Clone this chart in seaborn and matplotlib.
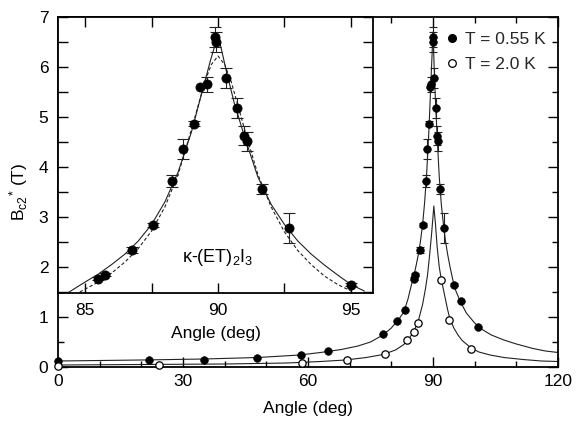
import matplotlib
matplotlib.use("Agg")
import matplotlib.pyplot as plt
import seaborn as sns
import numpy as np
import pandas as pd
from matplotlib.lines import Line2D
from matplotlib.ticker import MultipleLocator

# ---------------- data ----------------
# T = 0.55 K data points
ang_055 = [0, 21.8, 35, 47.8, 58.3, 64.9, 77.9, 81.4, 83.3, 85.49, 85.76, 86.77, 87.56,
           88.27, 88.67, 89.08, 89.33, 89.59, 89.90, 89.94, 90.30, 90.71, 90.99, 91.09,
           91.65, 92.68, 95.01, 96.6, 100.8]
bc2_055 = [0.12, 0.14, 0.15, 0.19, 0.24, 0.32, 0.67, 0.93, 1.15, 1.77, 1.85, 2.35, 2.84,
           3.73, 4.36, 4.87, 5.61, 5.66, 6.60, 6.50, 5.79, 5.19, 4.63, 4.52,
           3.57, 2.79, 1.65, 1.32, 0.81]
err_055 = [0, 0, 0, 0, 0, 0, 0, 0, 0, 0.03, 0.03, 0.06, 0.04,
           0.12, 0.21, 0.05, 0.0, 0.15, 0.2, 0.2, 0.2, 0.2, 0.19, 0.19,
           0.1, 0.3, 0.03, 0, 0]

# T = 2.0 K data points
ang_20 = [0, 24.3, 58.5, 69.4, 78.5, 83.8, 85.4, 86.3, 91.9, 93.9, 99.1]
bc2_20 = [0.03, 0.04, 0.09, 0.14, 0.26, 0.54, 0.71, 0.89, 1.74, 0.95, 0.37]

# solid fit curve, T = 0.55 K (main panel)
fit055_ang = [0, 20, 35, 48, 58, 63, 68, 72, 75, 78, 80, 82, 83, 84, 84.4, 85.0, 85.5, 86.0,
              86.5, 87.0, 87.5, 88.0, 88.5, 89.0, 89.4, 89.7, 90.0, 90.3, 90.6, 91.0,
              91.5, 92.0, 92.5, 93.0, 93.5, 94.0, 94.5, 95.0, 95.5, 96.5, 98, 100,
              102, 104, 107, 110, 114, 117, 120]
fit055_val = [0.12, 0.14, 0.16, 0.19, 0.24, 0.29, 0.35, 0.42, 0.50, 0.64, 0.78, 0.98, 1.10,
              1.36, 1.50, 1.70, 1.86, 2.05, 2.26, 2.52, 2.85, 3.30, 3.90, 4.70, 5.50,
              6.10, 6.70, 5.95, 5.30, 4.60, 3.80, 3.25, 2.85, 2.52, 2.26, 2.04, 1.84,
              1.65, 1.52, 1.32, 1.08, 0.88, 0.74, 0.64, 0.54, 0.46, 0.37, 0.32, 0.29]

# solid fit curve, T = 2.0 K
fit20_ang = [0, 20, 40, 55, 63, 69, 74, 78, 81, 83, 84.5, 85.5, 86.5, 87.5, 88.2, 88.7,
             89.2, 89.7, 90.2, 90.6, 91.0, 91.5, 92.0, 92.5, 93.5, 94.0, 95, 96, 97,
             99, 101, 103.7, 107, 111.6, 116, 120]
fit20_val = [0.04, 0.05, 0.06, 0.08, 0.11, 0.14, 0.19, 0.25, 0.34, 0.45, 0.60, 0.73, 0.93,
             1.25, 1.57, 1.85, 2.25, 2.70, 3.22, 2.85, 2.40, 2.00, 1.75, 1.55, 1.15,
             0.98, 0.78, 0.64, 0.53, 0.39, 0.30, 0.24, 0.19, 0.15, 0.12, 0.11]

# inset: solid (2D) and dashed (3D) fit curves
in_solid_ang = [84.0, 84.4, 85.0, 85.5, 86.0, 86.5, 87.0, 87.5, 88.0, 88.5, 89.0, 89.4, 89.7,
                90.0, 90.3, 90.6, 91.0, 91.5, 92.0, 92.5, 93.0, 93.5, 94.0, 94.5, 95.0, 95.5]
in_solid_val = [1.40, 1.50, 1.70, 1.86, 2.05, 2.26, 2.52, 2.85, 3.30, 3.90, 4.70, 5.50, 6.10,
                6.65, 5.95, 5.30, 4.60, 3.80, 3.25, 2.85, 2.52, 2.26, 2.04, 1.84, 1.65, 1.52]
in_dash_ang = [84.8, 85.5, 86.0, 86.5, 87.0, 87.5, 88.0, 88.5, 89.0, 89.5, 89.75, 90.0,
               90.25, 90.5, 91.0, 91.5, 92.0, 92.5, 93.0, 93.5, 94.0, 94.5, 95.0]
in_dash_val = [1.50, 1.70, 1.88, 2.10, 2.37, 2.72, 3.20, 3.85, 4.75, 5.70, 6.05, 6.22,
               6.05, 5.70, 4.75, 3.85, 3.20, 2.70, 2.33, 2.05, 1.82, 1.65, 1.52]

main_xticks = [0, 30, 60, 90, 120]
inset_xticks = [85, 90, 95]
legend_labels = ["T = 0.55 K", "T = 2.0 K"]
inset_title = "κ-(ET)$_2$I$_3$"

# ---------------- style ----------------
sns.set_theme(style="ticks")
plt.rcParams["font.family"] = ["Liberation Sans", "DejaVu Sans"]
plt.rcParams["mathtext.fontset"] = "custom"
plt.rcParams["mathtext.rm"] = "Liberation Sans"
plt.rcParams["mathtext.it"] = "Liberation Sans:italic"
plt.rcParams["mathtext.bf"] = "Liberation Sans:bold"

fig = plt.figure(figsize=(5.76, 4.21), dpi=100)
W, H = 576, 421
ax = fig.add_axes([58 / W, (H - 367) / H, 500 / W, 350 / H])

df_f055 = pd.DataFrame({"ang": fit055_ang, "val": fit055_val})
df_f20 = pd.DataFrame({"ang": fit20_ang, "val": fit20_val})
df_p055 = pd.DataFrame({"ang": ang_055, "val": bc2_055, "err": err_055})
df_p20 = pd.DataFrame({"ang": ang_20, "val": bc2_20})

lc = "#222222"
sns.lineplot(data=df_f055, x="ang", y="val", ax=ax, color=lc, lw=0.8, sort=False, estimator=None)
sns.lineplot(data=df_f20, x="ang", y="val", ax=ax, color=lc, lw=0.8, sort=False, estimator=None)
eb = df_p055[df_p055.err > 0]
ax.errorbar(eb.ang, eb.val, yerr=eb.err, fmt="none", ecolor="#222222", elinewidth=0.8,
            capsize=3, capthick=0.8, zorder=3)
sns.scatterplot(data=df_p055, x="ang", y="val", ax=ax, color="black", s=30,
                edgecolor="black", linewidth=0.5, zorder=4, clip_on=False)
sns.scatterplot(data=df_p20, x="ang", y="val", ax=ax, facecolor="white", s=28,
                edgecolor="black", linewidth=0.9, zorder=4, clip_on=False)

ax.set_xlim(0, 120)
ax.set_ylim(0, 7)
ax.set_xticks(main_xticks)
ax.xaxis.set_minor_locator(MultipleLocator(10))
ax.yaxis.set_major_locator(MultipleLocator(1))
ax.yaxis.set_minor_locator(MultipleLocator(0.5))
ax.tick_params(which="both", direction="in", top=True, right=True, labelsize=12.5,
               colors="black", width=1.0)
ax.tick_params(which="major", length=7, pad=5)
ax.tick_params(which="minor", length=4)
ax.tick_params(axis="y", which="major", pad=7)
for s in ax.spines.values():
    s.set_linewidth(1.3)
    s.set_color("black")
ax.set_xlabel("Angle (deg)", fontsize=12.5, labelpad=9, color="black")
ax.set_ylabel(r"B$_{\rm c2}{}^{*}$ (T)", fontsize=12.5, labelpad=6, color="black")

handles = [Line2D([], [], ls="none", marker="o", mfc="black", mec="black", ms=5.5),
           Line2D([], [], ls="none", marker="o", mfc="white", mec="black", ms=5.5, mew=0.9)]
ax.legend(handles, legend_labels, loc="upper left", bbox_to_anchor=((447 - 58) / 500, (367 - 32) / 350),
          frameon=False, handlelength=0.6, handletextpad=0.45, labelspacing=0.55,
          fontsize=12.5, borderpad=0, borderaxespad=0)

# ---------------- inset ----------------
axi = fig.add_axes([58 / W, (H - 293.3) / H, 315 / W, 276.3 / H])
axi.set_facecolor("white")
df_is = pd.DataFrame({"ang": in_solid_ang, "val": in_solid_val})
df_id = pd.DataFrame({"ang": in_dash_ang, "val": in_dash_val})
sns.lineplot(data=df_is, x="ang", y="val", ax=axi, color=lc, lw=0.8, sort=False, estimator=None)
sns.lineplot(data=df_id, x="ang", y="val", ax=axi, color=lc, lw=0.8, ls=(0, (3, 2)),
             sort=False, estimator=None)
axi.errorbar(eb.ang, eb.val, yerr=eb.err, fmt="none", ecolor="#222222", elinewidth=0.8,
             capsize=4, capthick=0.8, zorder=3)
sns.scatterplot(data=df_p055, x="ang", y="val", ax=axi, color="black", s=44,
                edgecolor="black", linewidth=0.5, zorder=4)
axi.set_xlim(83.98, 95.83)
axi.set_ylim((367 - 293.3) / 50, 7)
axi.set_xticks(inset_xticks)
axi.xaxis.set_minor_locator(MultipleLocator(2.5))
axi.yaxis.set_major_locator(MultipleLocator(0.5))
axi.tick_params(which="both", direction="in", top=True, right=True, left=True,
                labelleft=False, labelsize=12.5, colors="black", width=1.0)
axi.tick_params(which="major", length=7, pad=7)
axi.tick_params(which="minor", length=7)
for s in axi.spines.values():
    s.set_linewidth(1.3)
    s.set_color("black")
axi.set_xlabel("Angle (deg)", fontsize=12.5, labelpad=6, color="black")
axi.set_ylabel("")
axi.text(90, 2.2, inset_title, fontsize=13, ha="center", va="center", color="black")

fig.savefig("out.png", dpi=100)
